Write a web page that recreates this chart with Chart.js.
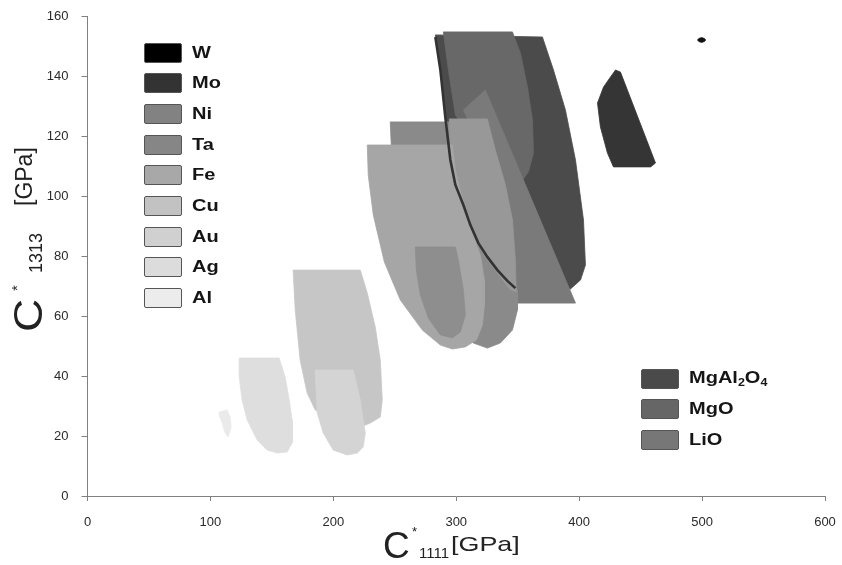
<!DOCTYPE html>
<html><head><meta charset="utf-8">
<script src="https://cdn.jsdelivr.net/npm/chart.js@4.4.1/dist/chart.umd.min.js"></script>
<style>
html,body{margin:0;padding:0;background:#fff;}
#wrap{position:relative;width:842px;height:565px;font-family:"Liberation Sans",Arial,sans-serif;overflow:hidden}
#cv{position:absolute;left:0;top:0;}
.row{position:absolute;height:21px;display:flex;align-items:center;white-space:nowrap}
.sw{width:36px;height:18px;border:1.5px solid #555;border-radius:2px}
.lab{display:inline-block;font-weight:bold;font-size:16px;color:#151515;margin-left:10px;transform:scaleX(1.25);transform-origin:0 50%}
.lab sub{font-size:10px;vertical-align:-3px}
.p{position:absolute;white-space:nowrap;color:#222;line-height:1;transform-origin:0 0}
#yt{position:absolute;left:-74px;top:221px;width:200px;height:40px;transform:rotate(-90deg);transform-origin:50% 50%}
</style></head>
<body><div id="wrap"><canvas id="cv" width="842" height="565"></canvas>
<div id="xt">
  <span class="p" style="left:383px;top:527px;font-size:37px">C</span>
  <span class="p" style="left:412px;top:525px;font-size:13px">*</span>
  <span class="p" style="left:419px;top:545px;font-size:15px">1111</span>
  <span class="p" style="left:451px;top:533px;font-size:21px;transform:scaleX(1.28)">[GPa]</span>
</div>
<div id="yt">
  <span class="p" style="left:9px;top:2px;font-size:40px;transform:scaleX(1.15)">C</span>
  <span class="p" style="left:50px;top:3px;font-size:15px">*</span>
  <span class="p" style="left:68px;top:21px;font-size:18px">1313</span>
  <span class="p" style="left:135px;top:7px;font-size:23px">[GPa]</span>
</div>
</div>
<script>
// ---- axis ticks ----
const xTicks = [0, 100, 200, 300, 400, 500, 600];
const yTicks = [0, 20, 40, 60, 80, 100, 120, 140, 160];

// ---- legend entries ----
const legend1Labels = ['W', 'Mo', 'Ni', 'Ta', 'Fe', 'Cu', 'Au', 'Ag', 'Al'];
const legend1Colors = ['#000000', '#333333', '#828282', '#868686', '#a8a8a8', '#c2c2c2', '#d0d0d0', '#dcdcdc', '#ececec'];
const legend2Labels = ['MgAl<sub>2</sub>O<sub>4</sub>', 'MgO', 'LiO'];
const legend2Colors = ['#4a4a4a', '#666666', '#777777'];

// ---- regions (C*1111, C*1313 in GPa) ----
const mgal2o4X = [283.0,370.1,379.1,388.8,397.0,403.5,405.1,401.1,392.9,348.1,341.6,333.5,325.3,318.0,311.5,305.8,299.3,295.2,291.1,287.1];
const mgal2o4Y = [153.7,153.0,142.0,128.7,112.0,92.0,77.0,72.0,69.0,69.3,71.7,75.3,79.7,84.3,90.3,97.0,103.7,112.0,126.3,142.0];
const mgoX = [289.5,345.7,352.2,357.9,362.0,362.8,358.7,348.1,335.9,319.6,307.4,299.3,293.6];
const mgoY = [154.7,154.7,147.7,136.3,125.3,114.3,108.0,102.0,102.0,112.0,122.0,127.0,142.0];
const lioX = [305.8,323.7,397.0,349.8,348.1,344.1,335.9,326.1,315.6];
const lioY = [128.7,135.3,64.3,64.3,78.7,92.0,100.3,110.3,120.3];
const taX = [246.3,295.2,299.3,305.0,315.6,333.5,349.8,349.8,345.7,335.9,325.3,313.9,299.3,278.9,262.6,252.9,248.0];
const taY = [124.7,124.7,115.3,102.0,90.3,78.0,68.7,62.0,55.3,51.0,49.3,51.0,55.3,63.7,75.3,92.0,108.7];
const niUpperX = [294.4,325.3,331.8,340.0,345.7,348.1,348.9,344.1,338.4,331.8,323.7,316.4,309.9,304.2,298.5,295.2];
const niUpperY = [125.7,125.7,115.3,103.7,92.0,78.7,68.0,68.7,71.7,75.3,79.7,84.3,90.3,96.7,104.3,113.7];
const feX = [227.6,296.8,299.3,305.0,311.5,319.6,322.9,322.9,321.3,316.4,307.4,296.8,287.1,272.4,254.5,241.5,232.5,228.4];
const feY = [117.0,117.0,108.7,98.7,89.3,80.3,72.0,63.7,57.0,52.0,49.7,49.0,50.3,55.3,65.3,78.0,93.7,107.0];
const niX = [266.7,299.3,301.7,305.8,307.4,303.3,296.8,287.1,277.3,270.8,267.5];
const niY = [83.0,83.0,78.7,68.7,60.3,54.7,52.7,53.7,59.3,67.0,75.3];
const edgeX = [283.0,287.1,291.1,295.2,299.3,305.8,311.5,318.0,325.3,333.5,341.6,348.1];
const edgeY = [153.0,142.0,126.3,112.0,103.7,97.0,90.3,84.3,79.7,75.3,71.7,69.3];
const cuX = [167.3,221.9,227.6,234.1,238.2,239.8,238.2,230.0,221.9,205.6,185.3,178.7,173.0,169.0];
const cuY = [75.3,75.3,67.7,56.3,45.3,32.0,26.3,24.3,23.0,23.7,28.7,34.3,45.3,62.0];
const auX = [185.3,216.2,221.9,224.3,226.0,224.3,219.5,211.3,199.9,191.8,186.9,186.1];
const auY = [42.0,42.0,32.0,25.3,21.0,16.3,14.3,13.7,15.3,21.0,27.7,34.3];
const agX = [123.4,155.9,160.8,164.1,166.5,166.5,162.5,154.3,146.2,138.0,129.9,125.8,123.4];
const agY = [46.0,46.0,39.7,32.0,25.3,17.7,14.7,14.3,15.3,18.7,25.3,32.0,39.7];
const alX = [107.1,113.6,116.0,116.9,114.4,112.0,109.5,107.1];
const alY = [28.0,28.7,26.3,23.0,19.7,21.0,24.3,27.0];
const moX = [429.6,433.6,462.1,458.1,427.9,423.0,417.3,414.9,419.8,425.5];
const moY = [142.0,141.3,111.0,109.7,109.7,114.3,123.0,131.0,136.3,139.7];
const wX = [496.3,497.3,499.6,501.9,502.9,501.9,499.6,497.3];
const wY = [152.0,152.5,152.8,152.5,152.0,151.5,151.2,151.5];

// back-to-front drawing order
const layers = [
  {label:'MgAl2O4', xs:mgal2o4X, ys:mgal2o4Y, color:'#4b4b4b'},
  {label:'MgO', xs:mgoX, ys:mgoY, color:'#686868'},
  {label:'LiO', xs:lioX, ys:lioY, color:'#7a7a7a'},
  {label:'Ta', xs:taX, ys:taY, color:'#8a8a8a'},
  {label:'Ni', xs:niUpperX, ys:niUpperY, color:'#989898'},
  {label:'Fe', xs:feX, ys:feY, color:'#a6a6a6'},
  {label:'Ni', xs:niX, ys:niY, color:'#8e8e8e'},
  {label:'MgAl2O4 edge', xs:edgeX, ys:edgeY, color:'#333333', line:true},
  {label:'Cu', xs:cuX, ys:cuY, color:'#c6c6c6'},
  {label:'Au', xs:auX, ys:auY, color:'#d4d4d4'},
  {label:'Ag', xs:agX, ys:agY, color:'#dedede'},
  {label:'Al', xs:alX, ys:alY, color:'#eaeaea'},
  {label:'Mo', xs:moX, ys:moY, color:'#353535'},
  {label:'W', xs:wX, ys:wY, color:'#111111'}
];

const datasets = layers.map((L, i) => {
  const pts = L.xs.map((x, k) => ({x: x, y: L.ys[k]}));
  if (!L.line) pts.push({x: L.xs[0], y: L.ys[0]});
  return {
    label: L.label,
    data: pts,
    showLine: true,
    fill: L.line ? false : 'shape',
    backgroundColor: L.color,
    borderColor: L.color,
    borderWidth: L.line ? 2.6 : 0.8,
    pointRadius: 0,
    tension: 0,
    order: layers.length - i
  };
});

new Chart(document.getElementById('cv'), {
  type: 'line',
  data: {datasets: datasets},
  options: {
    responsive: false,
    animation: false,
    events: [],
    layout: {padding: {top: 16, right: 17, left: 0, bottom: 0}},
    plugins: {legend: {display: false}, tooltip: {enabled: false}},
    scales: {
      x: {
        type: 'linear', min: 0, max: 600,
        afterBuildTicks: s => { s.ticks = xTicks.map(v => ({value: v})); },
        afterFit: s => { s.height = 69; s.paddingLeft = 0; s.paddingRight = 0; },
        grid: {display: true, drawOnChartArea: false, drawTicks: true, tickLength: 5, color: '#808080'},
        border: {color: '#808080', width: 1},
        ticks: {color: '#2a2a2a', font: {family: 'Liberation Sans', size: 13}, padding: 14, maxRotation: 0}
      },
      y: {
        type: 'linear', min: 0, max: 160,
        afterBuildTicks: s => { s.ticks = yTicks.map(v => ({value: v})); },
        afterFit: s => { s.width = 87.5; s.paddingTop = 0; s.paddingBottom = 0; },
        grid: {display: true, drawOnChartArea: false, drawTicks: true, tickLength: 6, color: '#808080'},
        border: {color: '#808080', width: 1},
        ticks: {color: '#2a2a2a', font: {family: 'Liberation Sans', size: 13}, padding: 13}
      }
    }
  }
});

// HTML legends
const wrap = document.getElementById('wrap');
function addLegend(labels, colors, left, top, step) {
  labels.forEach((t, i) => {
    const r = document.createElement('div');
    r.className = 'row';
    r.style.left = left + 'px';
    r.style.top = (top + i * step) + 'px';
    const sw = document.createElement('div');
    sw.className = 'sw';
    sw.style.background = colors[i];
    const lb = document.createElement('span');
    lb.className = 'lab';
    lb.innerHTML = t;
    r.appendChild(sw); r.appendChild(lb);
    wrap.appendChild(r);
  });
}
addLegend(legend1Labels, legend1Colors, 144, 42, 30.7);
addLegend(legend2Labels, legend2Colors, 641, 368, 30.5);
</script>
</body></html>
